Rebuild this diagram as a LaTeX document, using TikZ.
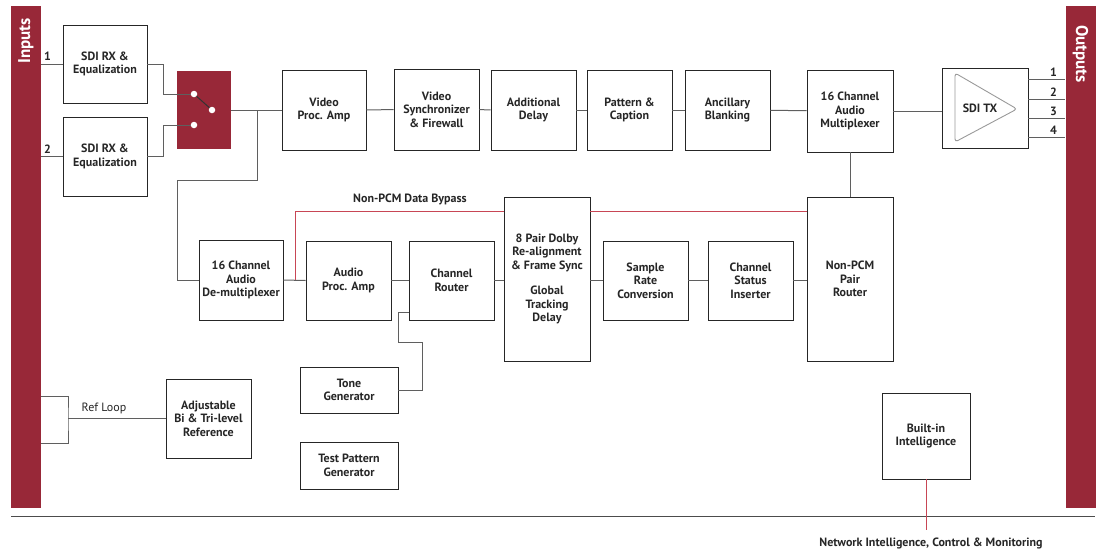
\documentclass[tikz,border=0pt]{standalone}
\usepackage{fontspec}
\setmainfont{PT Sans}
\usetikzlibrary{calc}
\definecolor{brand}{RGB}{152,40,56}
\definecolor{wiregray}{RGB}{95,95,95}
\definecolor{bypassred}{RGB}{200,70,85}

\begin{document}
\begin{tikzpicture}
  [x=1pt, y=-1pt,
   blk/.style={draw=black!85,
               line width=0.9pt,
               align=center,
               font=\fontsize{12}{13.5}\selectfont\bfseries,
               text=black!85,
               inner sep=1pt},
   wire/.style={draw=wiregray, line width=1pt},
   bypass/.style={draw=bypassred, line width=1pt},
   bar/.style={fill=brand, draw=none, minimum width=30pt},
   dot/.style={circle, fill=white, draw=none, inner sep=0pt, minimum size=6.5pt},
   lbl/.style={font=\fontsize{12}{13.5}\selectfont\bfseries, text=black!85, inner sep=1pt}]
  \useasboundingbox (0,0) rectangle (1101,555);

  % side bars
  \node[bar, minimum height=502pt] (inbar) at (26,257) {};
  \node[bar, minimum height=502pt] (outbar) at (1080.5,257) {};
  \node[rotate=90, text=white, font=\fontsize{17}{19}\selectfont\bfseries] (intxt) at (26,41) {Inputs};
  \node[rotate=-90, text=white, font=\fontsize{17}{19}\selectfont\bfseries] (outtxt) at (1080.5,54) {Outputs};

  % video path
  \node[blk, minimum width=84pt, minimum height=78pt] (rx1) at (105,64) {SDI RX \&\\Equalization};
  \node[blk, minimum width=84pt, minimum height=79pt] (rx2) at (105,156.5) {SDI RX \&\\Equalization};
  \node[fill=brand, minimum width=54pt, minimum height=78pt] (sw) at (204,110) {};
  \node[blk, minimum width=84pt, minimum height=80pt] (vpa) at (324,110) {Video\\Proc. Amp};
  \node[blk, minimum width=85pt, minimum height=81pt] (vsync) at (436.5,109.5) {Video\\Synchronizer\\\& Firewall};
  \node[blk, minimum width=85pt, minimum height=80pt] (adly) at (533.5,110) {Additional\\Delay};
  \node[blk, minimum width=85pt, minimum height=80pt] (patt) at (629.5,110) {Pattern \&\\Caption};
  \node[blk, minimum width=85pt, minimum height=80pt] (anc) at (727.5,110) {Ancillary\\Blanking};
  \node[blk, minimum width=86pt, minimum height=82pt] (mux) at (850,111) {16 Channel\\Audio\\Multiplexer};
  \node[blk, minimum width=86pt, minimum height=80pt] (tx) at (985,108) {};
  \draw[draw=black!40, line width=0.9pt, rounded corners=3pt]
    (955,73) -- (1017,109) -- (955,142) -- cycle;
  \node[lbl] (txtxt) at (980,108) {SDI TX};

  % audio path
  \node[blk, minimum width=84pt, minimum height=80pt] (demux) at (241,280) {16 Channel\\Audio\\De-multiplexer};
  \node[blk, minimum width=85pt, minimum height=79pt] (apa) at (348.5,280.5) {Audio\\Proc. Amp};
  \node[blk, minimum width=85pt, minimum height=79pt] (crt) at (451.5,280.5) {Channel\\Router};
  \node[blk, minimum width=86pt, minimum height=164pt] (dolby) at (547,279) {8 Pair Dolby\\Re-alignment\\\& Frame Sync\\[12pt]Global\\Tracking\\Delay};
  \node[blk, minimum width=85pt, minimum height=79pt] (src) at (645.5,280.5) {Sample\\Rate\\Conversion};
  \node[blk, minimum width=85pt, minimum height=79pt] (csi) at (750.5,280.5) {Channel\\Status\\Inserter};
  \node[blk, minimum width=86pt, minimum height=164pt] (npr) at (850,279) {Non-PCM\\Pair\\Router};

  % generators and reference
  \node[blk, minimum width=98pt, minimum height=46pt] (tone) at (349,390) {Tone\\Generator};
  \node[blk, minimum width=98pt, minimum height=47pt] (tpg) at (349,465.5) {Test Pattern\\Generator};
  \node[blk, minimum width=85pt, minimum height=79pt] (ref) at (208.5,418.5) {Adjustable\\Bi \& Tri-level\\Reference};
  \node[blk, minimum width=88pt, minimum height=86pt] (bii) at (926,436) {Built-in\\Intelligence};

  % inputs and switch
  \draw[wire] (rx1.west -| inbar.east) -- (rx1.west) node[lbl, pos=0.3, above=2pt] {1};
  \draw[wire] (rx2.west -| inbar.east) -- (rx2.west) node[lbl, pos=0.3, above=2pt] {2};
  \coordinate (s1) at (194,94);
  \coordinate (s2) at (194,125);
  \coordinate (s3) at (212,110);
  \draw[wire] (rx1.east) -- ++(16,0) |- (s1);
  \draw[wire] (rx2.east) -- ++(16,0) |- (s2);
  \draw[draw=black!80, line width=1pt] (s1) -- (s3);
  \node[dot] at (s1) {};
  \node[dot] at (s2) {};
  \node[dot] at (s3) {};
  \draw[wire] (sw.east) -- (vpa.west);
  \coordinate (br) at (257,110);
  \coordinate (jt) at (177,180);
  \draw[wire] (br) |- (jt) |- (demux.west);

  % video chain
  \draw[wire] (vpa) -- (vsync);
  \draw[wire] (vsync) -- (adly);
  \draw[wire] (adly) -- (patt);
  \draw[wire] (patt) -- (anc);
  \draw[wire] (anc) -- (mux);
  \draw[wire] (mux.east) -- (tx.west |- mux.east);
  \foreach \n/\y in {1/79,2/99,3/118,4/137}
    \draw[wire] (tx.east |- 0,\y) -- (outbar.west |- 0,\y)
      node[lbl, pos=0.68, above=1pt] {\n};
  \draw[wire] (mux.south) -- (npr.north);

  % audio chain
  \draw[wire] (demux.east) -- (apa.west);
  \draw[wire] (apa.east) -- (crt.west);
  \draw[wire] (crt.east) -- (dolby.west |- crt.east);
  \draw[wire] (dolby.east |- src.west) -- (src.west);
  \draw[wire] (src.east) -- (csi.west);
  \draw[wire] (csi.east) -- (npr.west |- csi.east);
  \draw[bypass] ($(demux.east)+(12,0)$) |- (dolby.west |- 0,211.5);
  \draw[bypass] (dolby.east |- 0,211.5) -- (npr.west |- 0,211.5);
  \node[lbl] (bytxt) at (410,199) {Non-PCM Data Bypass};
  \draw[wire] (tone.east) -- ++(24,0) -- ++(0,-48) -- ++(-24,0) |- (crt.west |- 0,312);

  % reference loop
  \coordinate (rl) at (68,418.5);
  \draw[wire] (inbar.east |- 0,396) -| (rl) |- (inbar.east |- 0,443);
  \draw[wire] (rl) -- (ref.west);
  \node[lbl, font=\fontsize{12}{13.5}\selectfont] (rltxt) at (104,408) {Ref Loop};

  % control
  \draw[draw=black!70, line width=1pt] (11,516) -- (1095,516);
  \node[lbl] (nicm) at (931,543) {Network Intelligence, Control \& Monitoring};
  \draw[bypass] (bii.south) -- ++(0,51);
\end{tikzpicture}
\end{document}
